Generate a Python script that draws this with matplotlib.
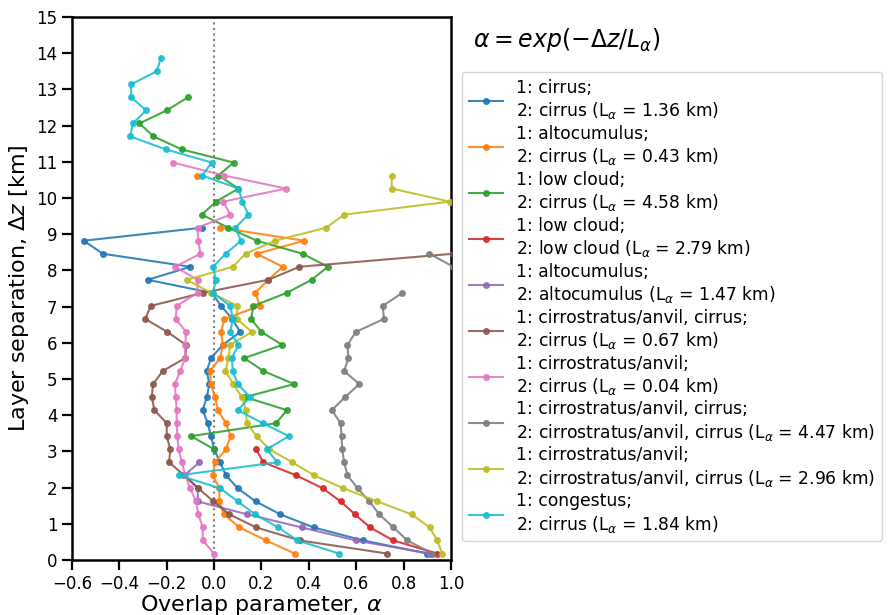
import matplotlib.pyplot as plt
import numpy as np

# Layer separation bin centres [km]
layer_sep = [0.18, 0.54, 0.90, 1.26, 1.62, 1.98, 2.34, 2.70, 3.06, 3.42,
             3.78, 4.14, 4.50, 4.86, 5.22, 5.58, 5.94, 6.30, 6.66, 7.02,
             7.38, 7.74, 8.10, 8.46, 8.82, 9.18, 9.54, 9.90, 10.26, 10.62,
             10.98, 11.34, 11.70, 12.06, 12.42, 12.78, 13.14, 13.50, 13.86]

nan = np.nan

# overlap parameter per class pair, starting at the first bin
alpha_ci_ci = [0.90, 0.63, 0.42, 0.28, 0.175, 0.10, 0.05, 0.025, 0.0, -0.013,
               -0.027, -0.048, -0.031, -0.02, -0.031, -0.013, 0.037, 0.11, 0.077, 0.03,
               -0.01, -0.28, -0.10, -0.47, -0.55, -0.05]
alpha_ac_ci = [0.34, 0.22, 0.107, 0.042, 0.022, 0.022, -0.005, 0.004, 0.05, 0.07,
               0.05, 0.016, 0.004, -0.014, -0.017, 0.025, 0.037, 0.03, 0.043, 0.194,
               0.174, 0.229, 0.29, 0.18, 0.38, 0.025, nan, nan, nan, -0.073]
alpha_lc_ci = [nan, nan, nan, nan, nan, nan, nan, nan, 0.0, -0.097,
               0.262, 0.307, 0.131, 0.338, 0.208, 0.127, 0.288, 0.2, 0.156, 0.166,
               0.307, 0.412, 0.48, 0.374, 0.18, 0.06, -0.052, 0.008, 0.103, 0.018,
               0.082, -0.136, -0.256, -0.315, -0.2, -0.111]
alpha_lc_lc = [0.942, 0.757, 0.658, 0.595, 0.534, 0.459, 0.346, 0.208, 0.177]
alpha_ac_ac = [0.91, 0.598, 0.37, 0.141, -0.07, -0.068, -0.125, -0.062]
alpha_csci_ci = [0.729, 0.363, 0.177, 0.065, -0.003, -0.066, -0.127, -0.19, -0.185, -0.2,
                 -0.2, -0.252, -0.263, -0.258, -0.217, -0.122, -0.118, -0.197, -0.291, -0.267,
                 -0.048, 0.229, 0.36, 1.01]
alpha_cs_ci = [0.0, -0.048, -0.048, -0.066, -0.076, -0.101, -0.122, -0.136, -0.15, -0.155,
               -0.158, -0.158, -0.162, -0.166, -0.143, -0.122, -0.122, -0.118, -0.162, -0.158,
               -0.07, -0.07, -0.165, -0.058, -0.066, -0.07, 0.068, 0.039, 0.304, 0.043,
               -0.174]
alpha_csci_csci = [0.921, 0.816, 0.757, 0.698, 0.655, 0.606, 0.563, 0.549, 0.541, 0.538,
                   0.534, 0.497, 0.553, 0.613, 0.549, 0.567, 0.563, 0.598, 0.717, 0.712,
                   0.795, nan, 1.01, 0.909]
alpha_cs_csci = [0.963, 0.942, 0.91, 0.834, 0.689, 0.546, 0.422, 0.33, 0.233, 0.18,
                 0.138, 0.135, 0.117, 0.081, 0.048, 0.06, 0.068, 0.159, 0.096, 0.098,
                 -0.013, -0.115, 0.079, 0.133, 0.257, 0.473, 0.549, 0.995, 0.75, 0.75]
alpha_cg_ci = [0.527, 0.352, 0.271, 0.173, 0.10, 0.025, -0.148, 0.267, 0.222, 0.316,
               0.205, 0.1, 0.152, 0.1, 0.079, 0.075, 0.103, 0.068, 0.079, 0.068,
               -0.005, 0.008, -0.005, 0.049, 0.114, 0.089, 0.145, 0.119, 0.103, -0.05,
               -0.01, -0.203, -0.354, -0.343, -0.287, -0.35, -0.35, -0.242, -0.225]

series = [alpha_ci_ci, alpha_ac_ci, alpha_lc_ci, alpha_lc_lc, alpha_ac_ac,
          alpha_csci_ci, alpha_cs_ci, alpha_csci_csci, alpha_cs_csci, alpha_cg_ci]
labels = [
    "1: cirrus;\n2: cirrus (L$_\\alpha$ = 1.36 km)",
    "1: altocumulus;\n2: cirrus (L$_\\alpha$ = 0.43 km)",
    "1: low cloud;\n2: cirrus (L$_\\alpha$ = 4.58 km)",
    "1: low cloud;\n2: low cloud (L$_\\alpha$ = 2.79 km)",
    "1: altocumulus;\n2: altocumulus (L$_\\alpha$ = 1.47 km)",
    "1: cirrostratus/anvil, cirrus;\n2: cirrus (L$_\\alpha$ = 0.67 km)",
    "1: cirrostratus/anvil;\n2: cirrus (L$_\\alpha$ = 0.04 km)",
    "1: cirrostratus/anvil, cirrus;\n2: cirrostratus/anvil, cirrus (L$_\\alpha$ = 4.47 km)",
    "1: cirrostratus/anvil;\n2: cirrostratus/anvil, cirrus (L$_\\alpha$ = 2.96 km)",
    "1: congestus;\n2: cirrus (L$_\\alpha$ = 1.84 km)",
]

plt.rcParams['font.family'] = 'DejaVu Sans'
plt.rcParams['axes.linewidth'] = 1.8
plt.rcParams['xtick.major.width'] = 1.6
plt.rcParams['ytick.major.width'] = 1.6
plt.rcParams['xtick.major.size'] = 7
plt.rcParams['ytick.major.size'] = 7

fig = plt.figure(figsize=(8.93, 6.15), dpi=100)
ax = fig.add_axes([0.0806, 0.0894, 0.4244, 0.883])

ax.axvline(0, color='grey', linestyle=':', linewidth=1.5, zorder=1)

for vals, lab in zip(series, labels):
    y = np.array(layer_sep[:len(vals)])
    ax.plot(vals, y, marker='o', markersize=4, linewidth=1.5, alpha=0.88,
            label=lab, zorder=3)

ax.set_xlim(-0.6, 1.0)
ax.set_ylim(0, 15)
ax.set_xticks(np.arange(-0.6, 1.01, 0.2))
ax.set_yticks(np.arange(0, 16, 1))
ax.tick_params(labelsize=12)
ax.set_xlabel('Overlap parameter, $\\alpha$', fontsize=16, labelpad=0)
ax.set_ylabel('Layer separation, $\\Delta z$ [km]', fontsize=16)

fig.text(0.53, 0.935, '$\\alpha = exp(-\\Delta z/L_\\alpha)$', fontsize=17,
         va='center', ha='left')

ax.legend(loc='upper left', bbox_to_anchor=(0.517, 0.883), bbox_transform=fig.transFigure,
          fontsize=12.3, borderaxespad=0, labelspacing=0.22, handlelength=2.0)

fig.savefig('out.png', dpi=100)
